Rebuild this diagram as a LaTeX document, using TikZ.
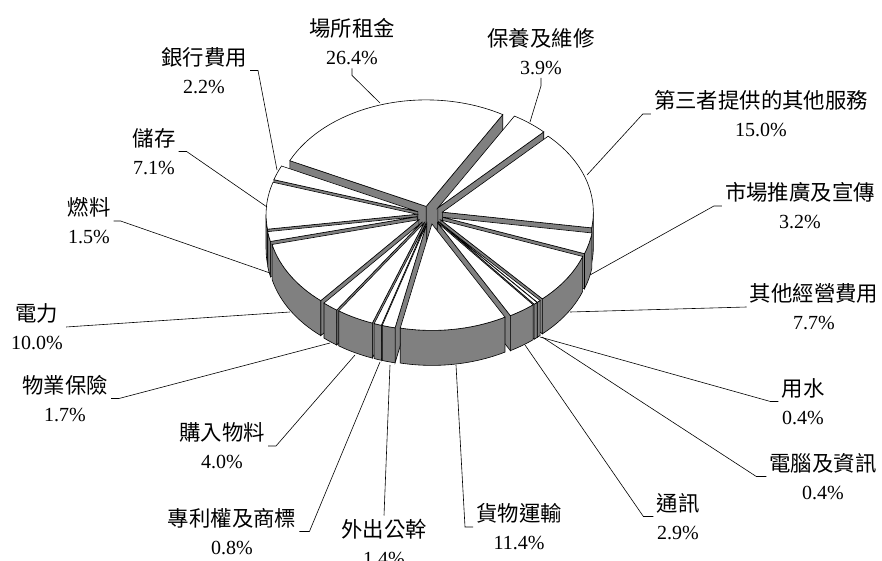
\documentclass[tikz,border=0pt]{standalone}
\usepackage{fontspec}
\setmainfont{Liberation Serif}
\newfontfamily\cjk[Scale=1.07]{Noto Sans CJK TC}
\usetikzlibrary{calc}

\tikzset{
  slicetop/.style={fill=white, draw=black, line width=0.6pt},
  slicewall/.style={fill=gray, draw=black, line width=0.6pt},
  lbl/.style={align=center, font=\fontsize{20}{28}\selectfont, inner sep=3pt},
  leader/.style={draw=black, line width=0.6pt}
}

% one slice of the pie, from angle #1 to angle #2
\newcommand{\pieslice}[2]{%
  \pgfmathsetmacro{\midang}{(#1+#2)/2}%
  \coordinate (O) at ({430+13*cos(\midang)},{-215+9*sin(\midang)});
  \coordinate (Ob) at ($(O)+(0,-35)$);
  \pgfmathtruncatemacro{\showlo}{cos(#1)>0}%
  \pgfmathtruncatemacro{\showhi}{cos(#2)<0}%
  \pgfmathsetmacro{\rimfrom}{max(#1,-180)}%
  \pgfmathsetmacro{\rimto}{min(#2,0)}%
  \pgfmathtruncatemacro{\showrim}{\rimfrom<\rimto}%
  \ifnum\showlo=1
    \filldraw[slicewall] (O) -- ++(#1:151 and 106.5) -- ++(0,-35) -- (Ob) -- cycle;
  \fi
  \ifnum\showhi=1
    \filldraw[slicewall] (O) -- ++(#2:151 and 106.5) -- ++(0,-35) -- (Ob) -- cycle;
  \fi
  \ifnum\showrim=1
    \filldraw[slicewall] ([shift={(O)}] \rimfrom:151 and 106.5)
      arc[start angle=\rimfrom, end angle=\rimto, x radius=151, y radius=106.5]
      -- ++(0,-35)
      arc[start angle=\rimto, end angle=\rimfrom, x radius=151, y radius=106.5]
      -- cycle;
  \fi
  \filldraw[slicetop] (O) -- ([shift={(O)}] #1:151 and 106.5)
    arc[start angle=#1, end angle=#2, x radius=151, y radius=106.5] -- cycle;
}

\begin{document}
\begin{tikzpicture}[x=1pt,y=1pt]
\useasboundingbox (0,0) rectangle (882,-561);

% slices, back to front
\foreach \a/\b in {59.54/154.58, 45.5/59.54, -205.42/-197.5, -8.5/45.5,
  -197.5/-171.94, -171.94/-166.54, -20.02/-8.5, -166.54/-130.54,
  -47.74/-20.02, -49.18/-47.74, -50.62/-49.18, -130.54/-124.42,
  -61.06/-50.62, -124.42/-110.02, -110.02/-107.14, -107.14/-102.1,
  -102.1/-61.06}
  \pieslice{\a}{\b};

% labels
\node[lbl] (rent) at (352,-42) {{\cjk 場所租金}\\26.4\%};
\node[lbl] (bank) at (204,-70.5) {{\cjk 銀行費用}\\2.2\%};
\node[lbl] (storage) at (154,-151.5) {{\cjk 儲存}\\7.1\%};
\node[lbl] (fuel) at (89,-221) {{\cjk 燃料}\\1.5\%};
\node[lbl] (maint) at (541,-51.5) {{\cjk 保養及維修}\\3.9\%};
\node[lbl] (third) at (761,-114) {{\cjk 第三者提供的其他服務}\\15.0\%};
\node[lbl] (market) at (800,-206) {{\cjk 市場推廣及宣傳}\\3.2\%};
\node[lbl] (opex) at (814,-307) {{\cjk 其他經營費用}\\7.7\%};
\node[lbl] (water) at (803,-401.5) {{\cjk 用水}\\0.4\%};
\node[lbl] (computer) at (823,-476.5) {{\cjk 電腦及資訊}\\0.4\%};
\node[lbl] (telecom) at (678,-516.5) {{\cjk 通訊}\\2.9\%};
\node[lbl] (freight) at (519,-527) {{\cjk 貨物運輸}\\11.4\%};
\node[lbl] (travel) at (384,-542) {{\cjk 外出公幹}\\1.4\%};
\node[lbl] (patent) at (232,-531.5) {{\cjk 專利權及商標}\\0.8\%};
\node[lbl] (material) at (222,-446) {{\cjk 購入物料}\\4.0\%};
\node[lbl] (insure) at (65,-398.5) {{\cjk 物業保險}\\1.7\%};
\node[lbl] (power) at (37,-327) {{\cjk 電力}\\10.0\%};

% leader ends on the pie
\coordinate (rent-p) at (380,-103);
\coordinate (bank-p) at (277,-170);
\coordinate (storage-p) at (267,-207);
\coordinate (fuel-p) at (270,-273);
\coordinate (maint-p) at (530,-122);
\coordinate (third-p) at (587,-175);
\coordinate (market-p) at (590,-275);
\coordinate (opex-p) at (570,-312);
\coordinate (water-p) at (540,-337);
\coordinate (computer-p) at (542,-337);
\coordinate (telecom-p) at (525,-345);
\coordinate (freight-p) at (456,-365);
\coordinate (travel-p) at (390,-365);
\coordinate (patent-p) at (380,-362);
\coordinate (material-p) at (355,-355);
\coordinate (insure-p) at (330,-343);
\coordinate (power-p) at (290,-312);

% leader lines
\draw[leader] (rent.south) -- ++(0,-7) -- (rent-p);
\draw[leader] (bank.east) -- ++(8,0) -- (bank-p);
\draw[leader] (storage.east) -- ++(8,0) -- (storage-p);
\draw[leader] (fuel.east) -- ++(7,0) -- (fuel-p);
\draw[leader] (maint.south) -- ++(0,-8) -- (maint-p);
\draw[leader] (third.west) -- ++(-8,0) -- (third-p);
\draw[leader] (market.west) -- ++(-8,0) -- (market-p);
\draw[leader] (opex.west) -- (opex-p);
\draw[leader] (water.west) -- ++(-8,0) -- (water-p);
\draw[leader] (computer.west) -- ++(-10,0) -- (computer-p);
\draw[leader] (telecom.west) -- ++(-10,0) -- (telecom-p);
\draw[leader] (freight.west) -- ++(-8,0) -- (freight-p);
\draw[leader] (travel.north) -- (travel-p);
\draw[leader] (patent.east) -- ++(10,0) -- (patent-p);
\draw[leader] (material.east) -- ++(8,0) -- (material-p);
\draw[leader] (insure.east) -- ++(8,0) -- (insure-p);
\draw[leader] (power.east) -- (power-p);

\end{tikzpicture}
\end{document}
